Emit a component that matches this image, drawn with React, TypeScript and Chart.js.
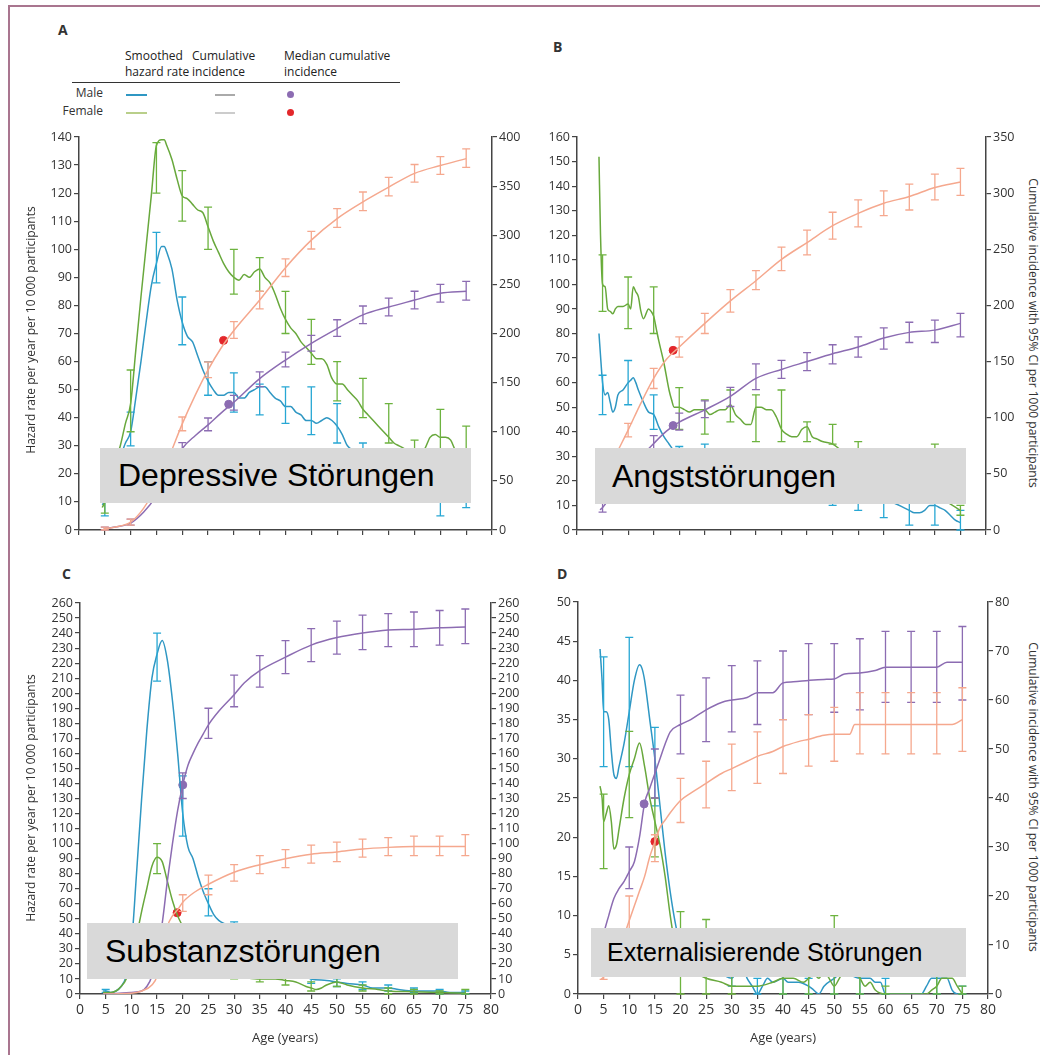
import React, { useEffect, useRef } from "react";
import { Chart, registerables } from "chart.js";

Chart.register(...registerables);

type P = [number, number];
type CI = [number, number, number];

// ---------------- Panel A: Depressive Störungen ----------------
const A_MALE_HAZ: P[] = [[4.5,9],[5,10],[6,15],[7,21],[8,26],[9,31],[10,35],[11,47],[12,60],[13,74],[14,87],[15,95],[16,101],[16.5,101],[17,99],[18,93],[19,82],[20,74],[21,69],[22,67],[23,62],[24,57],[25,53],[26,50],[27,48],[28,48],[29,49],[30,49],[31,47],[32,47],[33,49],[34,50],[35,51],[36,51],[37,49],[38,47],[39,46],[40,44],[41,44],[42,42],[43,41],[44,39],[45,39],[46,38],[47,39],[48,40],[49,39],[50,37],[51,34],[52,30],[55,27],[58,24],[60,22],[63,19],[65,17],[68,14],[70,12],[72,11],[75,10]];
const A_MALE_HAZ_CI: CI[] = [[5,5,13],[10,30,42],[15,88,106],[20,66,83],[25,48,60],[30,42,56],[35,41,52],[40,38,51],[45,34,51],[50,31,45],[55,24,31],[60,18,27],[65,13,22],[70,5,18],[75,8,14]];
const A_FEMALE_HAZ: P[] = [[4.5,8],[5,10],[6,17],[7,24],[8,30],[9,38],[10,45],[11,64],[12,83],[13,101],[14,119],[15,137],[16,139],[16.5,139],[17,137],[18,132],[19,125],[20,119],[21,118],[22,116],[23,114],[24,113],[25,108],[26,103],[27,99],[28,95],[29,92],[30,90],[31,89],[32,91],[33,90],[34,92],[35,93],[36,90],[37,88],[38,84],[39,79],[40,75],[41,72],[42,70],[43,67],[44,65],[45,63],[46,61],[47,61],[48,59],[49,54],[50,52],[51,52],[52,50],[53,48],[54,46],[55,43],[56,41],[57,39],[58,37],[59,35],[60,33],[61,31],[62,30],[63,29],[64,28],[65,28],[66,27],[67,29],[68,33],[69,34],[70,33],[71,33],[72,32],[73,28],[74,27],[75,27]];
const A_FEMALE_HAZ_CI: CI[] = [[5,6,14],[10,35,57],[15,120,138],[20,110,128],[25,100,115],[30,84,100],[35,85,97],[40,70,85],[45,59,75],[50,46,60],[55,40,54],[60,31,45],[65,26,32],[70,27,43],[75,23,37]];
const A_MALE_CUM: P[] = [[4.5,0],[5,1],[7,3],[10,7],[12.5,18],[15,35],[17,55],[20,83],[22.5,96],[25,107],[27.5,119],[30,130],[35,154],[40,173],[45,190],[50,205],[55,219],[60,227],[65,234],[70,241],[75,243]];
const A_MALE_CUM_CI: CI[] = [[5,0,3],[10,5,11],[15,30,40],[20,77,89],[25,101,114],[30,122,137],[35,146,161],[40,166,181],[45,182,198],[50,197,214],[55,210,228],[60,218,236],[65,225,243],[70,232,250],[75,234,253]];
const A_FEMALE_CUM: P[] = [[4.5,0],[5,1],[7,3],[10,8],[12.5,22],[15,45],[17.5,75],[20,108],[22.5,137],[25,163],[27.5,185],[30,203],[35,234],[40,267],[45,295],[50,317],[55,334],[60,349],[65,363],[70,371],[75,378]];
const A_FEMALE_CUM_CI: CI[] = [[5,0,3],[10,5,11],[15,40,50],[20,101,115],[25,155,171],[30,195,212],[35,225,243],[40,258,276],[45,286,304],[50,308,327],[55,325,344],[60,340,359],[65,354,372],[70,362,380],[75,369,388]];
const A_MALE_MEDIAN: P = [29, 128];
const A_FEMALE_MEDIAN: P = [28, 193];

// ---------------- Panel B: Angststörungen ----------------
const B_MALE_HAZ: P[] = [[4.3,80],[4.7,68],[5,60],[5.5,55],[6,56],[6.5,52],[7,48],[7.5,50],[8,55],[9,57],[10,60],[10.5,61],[11,62],[11.5,60],[12,57],[13,52],[14,48],[15,47],[16,42],[17,38],[18,35],[19,32],[20,29],[22,28],[25,26],[28,25],[30,24],[35,22],[40,20],[45,18],[50,16],[55,14],[58,13],[60,12],[62,11],[64,9],[65,8],[66,7],[67,7],[68,8],[69,10],[70,10],[71,9],[72,8],[73,6],[74,4],[75,3]];
const B_MALE_HAZ_CI: CI[] = [[5,47,63],[10,51,69],[15,41,55],[20,22,34],[25,27,35],[30,18,30],[35,16,28],[40,14,26],[45,12,24],[50,10,22],[55,8,20],[60,5,18],[65,2,12],[70,2,15],[75,0,8]];
const B_FEMALE_HAZ: P[] = [[4.3,152],[4.6,120],[5,100],[5.5,99],[6,90],[6.5,89],[7,88],[7.5,90],[8,91],[9,91],[10,92],[10.5,90],[11,99],[11.5,97],[12,95],[12.5,89],[13,86],[14,90],[14.5,89],[15,87],[15.5,82],[16,77],[17,68],[18,57],[18.5,53],[19,50],[20,50],[21,49],[22,48],[23,49],[24,49],[25,49],[26,47],[27,48],[28,49],[29,49],[30,51],[31,47],[32,45],[33,43],[34,43],[35,50],[36,50],[37,49],[38,49],[39,46],[40,41],[41,39],[42,38],[43,38],[44,41],[45,42],[46,38],[47,37],[48,36],[50,35],[52,32],[55,30],[58,27],[60,25],[63,22],[65,20],[68,17],[70,15],[72,12],[75,8]];
const B_FEMALE_HAZ_CI: CI[] = [[5,89,112],[10,82,103],[15,80,99],[20,41,58],[25,39,53],[30,44,57],[35,36,55],[40,36,57],[45,36,44],[50,35,43],[55,26,36],[60,20,31],[65,15,26],[70,12,35],[75,6,10]];
const B_MALE_CUM: P[] = [[4.5,18],[5,20],[7.5,36],[10,52],[12.5,65],[15,77],[17.5,88],[20,96],[25,107],[30,119],[35,135],[40,143],[45,150],[50,157],[55,163],[60,171],[65,176],[70,178],[75,184]];
const B_MALE_CUM_CI: CI[] = [[5,16,25],[10,45,60],[15,70,84],[20,89,104],[25,100,115],[30,110,127],[35,125,148],[40,135,151],[45,142,158],[50,148,165],[55,154,172],[60,161,180],[65,167,185],[70,167,187],[75,172,193]];
const B_FEMALE_CUM: P[] = [[4.5,38],[5,42],[7.5,66],[10,89],[12.5,113],[15,135],[17.5,152],[20,163],[25,184],[30,204],[35,222],[40,241],[45,256],[50,271],[55,282],[60,291],[65,297],[70,305],[75,310]];
const B_FEMALE_CUM_CI: CI[] = [[10,83,95],[15,126,144],[20,154,172],[25,175,193],[30,194,214],[35,214,231],[40,231,252],[45,245,267],[50,259,283],[55,270,294],[60,280,302],[65,285,308],[70,294,317],[75,298,322]];
const B_MALE_MEDIAN: P = [18.8, 93];
const B_FEMALE_MEDIAN: P = [18.8, 160];

// ---------------- Panel C: Substanzstörungen ----------------
const C_MALE_HAZ: P[] = [[4.5,2],[5,2],[6,1],[7,2],[8,5],[9,12],[10,32],[11,80],[12,130],[13,175],[14,210],[15,226],[16,235],[17,222],[18,195],[19,160],[20,120],[21,98],[22,90],[23,78],[24,68],[25,60],[26,53],[27,49],[28,47],[29,46],[30,46],[32,44],[35,38],[38,30],[40,22],[42,15],[45,10],[48,9],[50,8],[52,7],[55,6],[57,4],[60,4],[62,3],[65,2],[68,2],[70,2],[72,1],[75,1]];
const C_MALE_HAZ_CI: CI[] = [[5,1,3],[15,208,240],[20,105,145],[25,52,70],[30,44,48],[35,35,42],[40,18,26],[45,7,12],[50,5,10],[55,3,8],[60,2,6],[65,1,4],[70,0,3],[75,0,2]];
const C_FEMALE_HAZ: P[] = [[4.5,1],[5,1],[6,1],[7,2],[8,5],[9,10],[10,22],[11,38],[12,55],[13,70],[14,85],[15,91],[16,88],[17,75],[18,62],[19,52],[20,45],[21,38],[22,30],[24,22],[26,16],[28,13],[30,12],[32,11],[35,10],[38,10],[40,9],[42,8],[44,5],[45,4],[46,3],[47,4],[48,6],[50,8],[52,6],[55,4],[58,3],[60,2],[65,1.5],[70,1],[75,0.5]];
const C_FEMALE_HAZ_CI: CI[] = [[15,80,100],[30,10,14],[35,8,12],[40,6,12],[45,2,8],[50,5,12],[55,2,6],[60,0,4],[65,0,3],[70,0,2],[75,0,3]];
const C_MALE_CUM: P[] = [[4.5,0],[5,0],[10,1],[12,2],[13,5],[14,12],[15,28],[16,47],[17,75],[18,100],[19,122],[20,139],[21,152],[22,160],[23,167],[24,173],[25,179],[27,188],[30,199],[32,207],[35,215],[40,224],[45,232],[50,237],[55,240],[60,242],[65,242.5],[70,243.5],[75,244]];
const C_MALE_CUM_CI: CI[] = [[20,130,147],[25,170,190],[30,191,212],[35,204,225],[40,213,235],[45,221,243],[50,226,248],[55,229,252],[60,231,253],[65,231,254],[70,232,255],[75,233,256]];
const C_FEMALE_CUM: P[] = [[4.5,0],[5,0],[10,0.5],[12,2],[14,6],[15,12],[16,30],[17,45],[18,52],[19,56],[20,61],[22,67],[25,73],[30,81],[35,86],[40,90],[45,93],[50,94.5],[55,96.5],[60,97.5],[65,98],[70,98],[75,98]];
const C_FEMALE_CUM_CI: CI[] = [[20,55,66],[25,66,79],[30,75,86],[35,80,92],[40,84,96],[45,87,99],[50,88,101],[55,91,103],[60,92,104],[65,92,105],[70,92,105],[75,92,106]];
const C_MALE_MEDIAN: P = [20, 139];
const C_FEMALE_MEDIAN: P = [18.9, 54];

// ---------------- Panel D: Externalisierende Störungen ----------------
const D_MALE_HAZ: P[] = [[4.3,44],[4.7,40],[5,36],[5.5,36],[6,35],[6.5,31],[7,28],[7.5,27.5],[8,29],[9,32],[10,36],[11,40],[12,42],[12.5,41.5],[13,40],[14,35],[15,30],[16,24],[17,18],[18,13],[19,9],[20,6],[22,4],[25,3],[28,2.5],[30,2],[31,3],[32,3.5],[33,2],[34,1],[35,0],[36,1],[37,2],[38,1.5],[40,2],[41,1.5],[43,1.5],[45,1],[46,0.5],[47,0],[48,1],[50,2],[52,3],[53,2.5],[55,2],[57,2],[58,1.5],[59,1.5],[60,0],[62,0],[64,0],[66,0],[67,0],[68,1],[69,2],[70,2],[72,2],[73,0.5],[74,0],[75,0]];
const D_MALE_HAZ_CI: CI[] = [[5,29,43],[10,29,45.5],[15,24,34],[30,1,4],[35,0,2],[40,0,3],[45,0,2],[50,0,4],[55,0,4],[60,0,2],[70,0,4],[75,0,1]];
const D_FEMALE_HAZ: P[] = [[4.3,26.5],[4.7,25],[5,22],[5.5,23],[6,24],[6.5,22],[7,18.5],[7.5,19],[8,21],[9,25],[10,28],[11,30],[12,32],[13,29],[14,25],[15,22],[16,19],[17,15],[18,10],[19,6],[20,4],[22,3],[25,2],[28,1.5],[30,1],[35,1],[38,1.5],[40,2],[42,2],[44,1.5],[45,2],[46,2.5],[47,2],[48,3],[49,2],[50,1],[51,2],[52,3],[53,3],[55,2],[56,1],[57,1.5],[58,0.5],[60,0],[65,0],[68,0],[69,0.5],[70,1],[71,2],[72,2],[73,2],[74,1],[75,0]];
const D_FEMALE_HAZ_CI: CI[] = [[5,16,25.5],[10,22.5,33.5],[15,17.5,25],[20,0,10.5],[25,0,9.5],[30,0,3],[40,0,3],[45,0,4],[50,0,10],[55,0,3],[60,0,1],[70,0,4],[75,0,1]];
const D_MALE_CUM: P[] = [[4.5,8],[5,12],[6,16],[7,19.5],[8,21.5],[9,23],[10,25],[11,27],[12,32],[13,39],[14,42],[15,45],[16,48],[17,51],[18,53.5],[20,55],[22,56],[25,58],[28,59.5],[30,60],[33,60.5],[35,61.5],[38,61.5],[40,63.5],[42,63.7],[45,64],[48,64.2],[50,64.3],[52,65.3],[55,65.5],[58,66],[60,66.7],[65,66.7],[70,66.7],[72,67.7],[75,67.7]];
const D_MALE_CUM_CI: CI[] = [[10,21.5,30],[15,40,50],[20,49,61],[25,51.5,64.5],[30,53.5,67],[35,55,68],[40,56,70],[45,57,71.5],[50,57.5,71.5],[55,58,72.5],[60,59.5,74],[65,59.5,74],[70,59.5,74],[75,60,75]];
const D_FEMALE_CUM: P[] = [[4.5,3],[5,3.5],[7,8],[9,12],[10,15],[11,18],[12,21],[13,24],[14,28],[15,31],[16,34],[17,35.5],[18,37],[20,39.5],[22,41],[25,43],[28,45],[30,46],[33,47.5],[35,48.5],[38,49.5],[40,50.5],[43,51.5],[45,52],[48,52.8],[50,53],[53,53],[54,55],[55,55],[60,55],[65,55],[70,55],[73,55],[75,56]];
const D_FEMALE_CUM_CI: CI[] = [[5,3,4],[10,12,20],[15,27,32.5],[20,35,44],[25,38,47.5],[30,41.5,51],[35,43,53.5],[40,45,56],[45,46.5,57],[50,47.5,58.5],[55,49,61.5],[60,49,61.5],[65,49,61.5],[70,49,61.5],[75,49.5,62.5]];
const D_MALE_MEDIAN: P = [12.9, 38.8];
const D_FEMALE_MEDIAN: P = [15, 31.1];

// ---------------- Labels ----------------
const PANEL_TITLES = ["Depressive Störungen", "Angststörungen", "Substanzstörungen", "Externalisierende Störungen"];
const PANEL_LETTERS = ["A", "B", "C", "D"];
const LEFT_TITLE = "Hazard rate per year per 10 000 participants";
const RIGHT_TITLE = "Cumulative incidence with 95% CI per 1000 participants";
const X_TITLE = "Age (years)";

const COL = {
  maleHaz: "#2f97c3",
  maleHazBar: "#27a7d4",
  femHaz: "#68a83c",
  femHazBar: "#6db33f",
  maleCum: "#8c6cb2",
  femCum: "#f5a88e",
  femMed: "#e3272b",
  axis: "#444",
};

const TEXT_FONT = "'Open Sans', 'DejaVu Sans', sans-serif";

const errorBarPlugin = {
  id: "errbars",
  afterDatasetDraw(chart: any, args: any) {
    const ds = chart.data.datasets[args.index];
    if (!ds.ci) return;
    const xs = chart.scales.x;
    const ys = chart.scales[ds.yAxisID];
    const ctx = chart.ctx;
    ctx.save();
    ctx.strokeStyle = ds.ciColor || ds.borderColor;
    ctx.lineWidth = 1.3;
    for (const [x, lo, hi] of ds.ci as CI[]) {
      const px = xs.getPixelForValue(x);
      const p1 = ys.getPixelForValue(lo);
      const p2 = ys.getPixelForValue(hi);
      ctx.beginPath();
      ctx.moveTo(px, p1);
      ctx.lineTo(px, p2);
      ctx.moveTo(px - 4, p1);
      ctx.lineTo(px + 4, p1);
      ctx.moveTo(px - 4, p2);
      ctx.lineTo(px + 4, p2);
      ctx.stroke();
    }
    ctx.restore();
  },
};

interface Panel {
  left: number; top: number; w: number; h: number;
  plotL: number; plotR: number; plotT: number; plotB: number;
  yMax: number; yStep: number; y2Max: number; y2Step: number;
  xLabels: boolean;
  maleHaz: P[]; maleHazCI: CI[]; femHaz: P[]; femHazCI: CI[];
  maleCum: P[]; maleCumCI: CI[]; femCum: P[]; femCumCI: CI[];
  maleMed: P; femMed: P;
}

const PANELS: Panel[] = [
  { left: 20, top: 125, w: 500, h: 425, plotL: 79, plotR: 492, plotT: 137, plotB: 530, yMax: 140, yStep: 10, y2Max: 400, y2Step: 50, xLabels: false,
    maleHaz: A_MALE_HAZ, maleHazCI: A_MALE_HAZ_CI, femHaz: A_FEMALE_HAZ, femHazCI: A_FEMALE_HAZ_CI, maleCum: A_MALE_CUM, maleCumCI: A_MALE_CUM_CI, femCum: A_FEMALE_CUM, femCumCI: A_FEMALE_CUM_CI, maleMed: A_MALE_MEDIAN, femMed: A_FEMALE_MEDIAN },
  { left: 530, top: 125, w: 495, h: 425, plotL: 577, plotR: 986, plotT: 137, plotB: 530, yMax: 160, yStep: 10, y2Max: 350, y2Step: 50, xLabels: false,
    maleHaz: B_MALE_HAZ, maleHazCI: B_MALE_HAZ_CI, femHaz: B_FEMALE_HAZ, femHazCI: B_FEMALE_HAZ_CI, maleCum: B_MALE_CUM, maleCumCI: B_MALE_CUM_CI, femCum: B_FEMALE_CUM, femCumCI: B_FEMALE_CUM_CI, maleMed: B_MALE_MEDIAN, femMed: B_FEMALE_MEDIAN },
  { left: 20, top: 590, w: 500, h: 440, plotL: 80, plotR: 491, plotT: 603, plotB: 994, yMax: 260, yStep: 10, y2Max: 260, y2Step: 10, xLabels: true,
    maleHaz: C_MALE_HAZ, maleHazCI: C_MALE_HAZ_CI, femHaz: C_FEMALE_HAZ, femHazCI: C_FEMALE_HAZ_CI, maleCum: C_MALE_CUM, maleCumCI: C_MALE_CUM_CI, femCum: C_FEMALE_CUM, femCumCI: C_FEMALE_CUM_CI, maleMed: C_MALE_MEDIAN, femMed: C_FEMALE_MEDIAN },
  { left: 530, top: 590, w: 495, h: 440, plotL: 578, plotR: 988, plotT: 602, plotB: 994, yMax: 50, yStep: 5, y2Max: 80, y2Step: 10, xLabels: true,
    maleHaz: D_MALE_HAZ, maleHazCI: D_MALE_HAZ_CI, femHaz: D_FEMALE_HAZ, femHazCI: D_FEMALE_HAZ_CI, maleCum: D_MALE_CUM, maleCumCI: D_MALE_CUM_CI, femCum: D_FEMALE_CUM, femCumCI: D_FEMALE_CUM_CI, maleMed: D_MALE_MEDIAN, femMed: D_FEMALE_MEDIAN },
];

function lineDs(data: P[], color: string, axis: string, ci: CI[], ciColor: string) {
  return {
    type: "line",
    data: data.map(([x, y]) => ({ x, y })),
    borderColor: color,
    backgroundColor: color,
    borderWidth: 1.5,
    pointRadius: 0,
    yAxisID: axis,
    cubicInterpolationMode: "monotone",
    fill: false,
    ci,
    ciColor,
  } as any;
}

function markerDs(pt: P, color: string) {
  return {
    type: "line",
    data: [{ x: pt[0], y: pt[1] }],
    showLine: false,
    pointRadius: 4,
    pointBackgroundColor: color,
    pointBorderColor: color,
    borderColor: color,
    yAxisID: "y2",
  } as any;
}

function buildConfig(p: Panel): any {
  const leftW = p.plotL - p.left;
  const rightW = p.left + p.w - p.plotR;
  const padTop = p.plotT - p.top;
  const bottomH = p.top + p.h - p.plotB;
  const grid = { drawOnChartArea: false, drawTicks: true, tickLength: 5, color: COL.axis, lineWidth: 1.2 };
  const border = { display: true, color: COL.axis, width: 1.5 };
  const tickFont = { family: TEXT_FONT, size: 12.5 };
  return {
    type: "line",
    data: {
      datasets: [
        lineDs(p.femCum, COL.femCum, "y2", p.femCumCI, COL.femCum),
        lineDs(p.maleCum, COL.maleCum, "y2", p.maleCumCI, COL.maleCum),
        lineDs(p.femHaz, COL.femHaz, "y", p.femHazCI, COL.femHazBar),
        lineDs(p.maleHaz, COL.maleHaz, "y", p.maleHazCI, COL.maleHazBar),
        markerDs(p.maleMed, COL.maleCum),
        markerDs(p.femMed, COL.femMed),
      ],
    },
    options: {
      responsive: false,
      animation: false,
      devicePixelRatio: 1,
      layout: { padding: { top: padTop, left: 0, right: 0, bottom: 0 } },
      plugins: { legend: { display: false }, tooltip: { enabled: false } },
      scales: {
        x: {
          type: "linear", min: 0, max: 80,
          ticks: { stepSize: 5, display: p.xLabels, color: "#333", font: { family: TEXT_FONT, size: 14 }, padding: 3, autoSkip: false, maxRotation: 0 },
          grid, border,
          afterFit: (s: any) => { s.height = bottomH; },
        },
        y: {
          type: "linear", position: "left", min: 0, max: p.yMax,
          ticks: { stepSize: p.yStep, autoSkip: false, color: "#333", font: tickFont, padding: 2 },
          grid, border,
          afterFit: (s: any) => { s.width = leftW; },
        },
        y2: {
          type: "linear", position: "right", min: 0, max: p.y2Max,
          ticks: { stepSize: p.y2Step, autoSkip: false, color: "#333", font: tickFont, padding: 2 },
          grid, border,
          afterFit: (s: any) => { s.width = rightW; },
        },
      },
    },
    plugins: [errorBarPlugin],
  };
}

function ChartPanel({ p }: { p: Panel }) {
  const ref = useRef<HTMLCanvasElement>(null);
  useEffect(() => {
    const chart = new Chart(ref.current as HTMLCanvasElement, buildConfig(p));
    return () => chart.destroy();
  }, [p]);
  return (
    <canvas
      ref={ref}
      width={p.w}
      height={p.h}
      style={{ position: "absolute", left: p.left, top: p.top, width: p.w, height: p.h }}
    />
  );
}

const txt = (extra: React.CSSProperties): React.CSSProperties => ({
  position: "absolute",
  fontFamily: TEXT_FONT,
  color: "#333",
  whiteSpace: "nowrap",
  lineHeight: 1,
  ...extra,
});

function VTitle({ text, cx, cy, deg, size }: { text: string; cx: number; cy: number; deg: number; size: number }) {
  return (
    <div style={txt({ left: cx, top: cy, fontSize: size, transform: `translate(-50%, -50%) rotate(${deg}deg)` })}>{text}</div>
  );
}

function GrayBox({ x, y, w, h, text, size, padL }: { x: number; y: number; w: number; h: number; text: string; size: number; padL: number }) {
  return (
    <div
      style={{
        position: "absolute", left: x, top: y, width: w, height: h, background: "#d9d9d9",
        display: "flex", alignItems: "center", paddingLeft: padL, boxSizing: "border-box",
        fontFamily: "'Liberation Sans', Arial, sans-serif", fontSize: size, color: "#000", whiteSpace: "nowrap",
      }}
    >
      {text}
    </div>
  );
}

function Legend() {
  const head: React.CSSProperties = { fontSize: 12, lineHeight: "16px", color: "#222" };
  return (
    <>
      <div style={txt({ ...head, left: 125, top: 48, whiteSpace: "pre" })}>{"Smoothed\nhazard rate"}</div>
      <div style={txt({ ...head, left: 192, top: 48, whiteSpace: "pre" })}>{"Cumulative\nincidence"}</div>
      <div style={txt({ ...head, left: 284, top: 48, whiteSpace: "pre" })}>{"Median cumulative\nincidence"}</div>
      <div style={{ position: "absolute", left: 72, top: 82, width: 328, height: 1, background: "#333" }} />
      <div style={txt({ fontSize: 12, right: 1040 - 103, top: 87 })}>Male</div>
      <div style={txt({ fontSize: 12, right: 1040 - 103, top: 105 })}>Female</div>
      <div style={{ position: "absolute", left: 126, top: 94, width: 21, height: 1.5, background: COL.maleHaz }} />
      <div style={{ position: "absolute", left: 126, top: 112, width: 21, height: 1.5, background: "#b9cf8a" }} />
      <div style={{ position: "absolute", left: 215, top: 94, width: 20, height: 1.5, background: "#aaa" }} />
      <div style={{ position: "absolute", left: 215, top: 112, width: 20, height: 1.5, background: "#ccc" }} />
      <div style={{ position: "absolute", left: 287, top: 91, width: 7, height: 7, borderRadius: "50%", background: COL.maleCum }} />
      <div style={{ position: "absolute", left: 287, top: 109, width: 7, height: 7, borderRadius: "50%", background: COL.femMed }} />
    </>
  );
}

export default function App() {
  const letter = (l: string, x: number, y: number) => (
    <div key={l} style={txt({ left: x, top: y, fontSize: 14, fontWeight: 700, color: "#333" })}>{l}</div>
  );
  return (
    <div style={{ position: "absolute", left: 0, top: 0, width: 1040, height: 1055, background: "#fff", overflow: "hidden" }}>
      <div style={{ position: "absolute", left: 8, top: 5, width: 1032, height: 1050, borderLeft: "2px solid #a9758f", borderTop: "2px solid #a9758f" }} />
      {letter(PANEL_LETTERS[0], 58, 23)}
      {letter(PANEL_LETTERS[1], 553, 40)}
      {letter(PANEL_LETTERS[2], 62, 567)}
      {letter(PANEL_LETTERS[3], 557, 567)}
      <Legend />
      {PANELS.map((p, i) => <ChartPanel key={i} p={p} />)}
      <VTitle text={LEFT_TITLE} cx={31} cy={330} deg={-90} size={12} />
      <VTitle text={LEFT_TITLE} cx={31} cy={798} deg={-90} size={12} />
      <VTitle text={RIGHT_TITLE} cx={1033} cy={333} deg={90} size={12} />
      <VTitle text={RIGHT_TITLE} cx={1033} cy={797} deg={90} size={12} />
      <div style={txt({ left: 285, top: 1031, fontSize: 13, transform: "translateX(-50%)" })}>{X_TITLE}</div>
      <div style={txt({ left: 783, top: 1031, fontSize: 13, transform: "translateX(-50%)" })}>{X_TITLE}</div>
      <GrayBox x={100} y={448} w={371} h={55} text={PANEL_TITLES[0]} size={32} padL={18} />
      <GrayBox x={595} y={448} w={371} h={56} text={PANEL_TITLES[1]} size={32} padL={17} />
      <GrayBox x={87} y={923} w={371} h={56} text={PANEL_TITLES[2]} size={32} padL={18} />
      <GrayBox x={591} y={928} w={375} h={49} text={PANEL_TITLES[3]} size={25} padL={16} />
    </div>
  );
}
